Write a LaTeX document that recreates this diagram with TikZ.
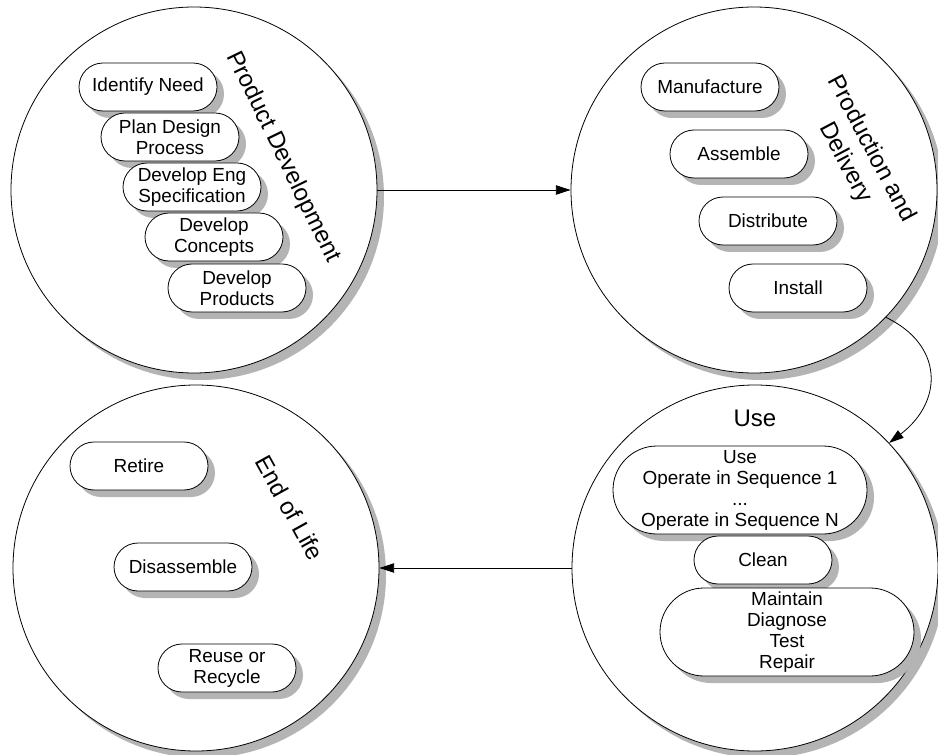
\documentclass[tikz,border=0pt]{standalone}
\usepackage{fontspec}
\setmainfont{Liberation Sans}
\usetikzlibrary{shadows,arrows.meta}
\definecolor{shade}{HTML}{B4B4B4}
\begin{document}
\begin{tikzpicture}[x=0.75pt,y=-0.75pt,
  phase/.style={circle, draw=black, line width=0.6pt, fill=white,
    minimum size=274.5pt, inner sep=0pt,
    drop shadow={shadow xshift=5.25pt, shadow yshift=-5.25pt, fill=shade, opacity=1}},
  task/.style={rectangle, rounded corners=18pt, draw=black, line width=0.6pt,
    fill=white, minimum width=103.5pt, minimum height=36pt, inner sep=2pt,
    align=center, font=\fontsize{14.2}{15.75}\selectfont,
    drop shadow={shadow xshift=5.25pt, shadow yshift=-5.25pt, fill=shade, opacity=1}},
  bigtask/.style={task, rounded corners=33pt, minimum width=190.5pt, minimum height=66pt},
  phasetitle/.style={font=\fontsize{18}{22}\selectfont, align=center},
  flow/.style={-{Triangle[length=11pt,width=7pt]}, line width=0.6pt}
]
\useasboundingbox (0,0) rectangle (938,755);

% the four life-cycle phases
\node[phase] (dev)  at (194,190) {};
\node[phase] (prod) at (754,190) {};
\node[phase] (use)  at (755,568) {};
\node[phase] (eol)  at (196,568) {};

% product development
\node[task] (need)  at (148,87)  {Identify Need};
\node[task] (plan)  at (170,137) {Plan Design\\Process};
\node[task] (spec)  at (192,187) {Develop Eng\\Specification};
\node[task] (conc)  at (214,237) {Develop\\Concepts};
\node[task] (prods) at (237,288) {Develop\\Products};
\node[phasetitle, rotate=-64] (devt) at (283,157) {Product Development};

% production and delivery
\node[task] (manu) at (710,87)  {Manufacture};
\node[task] (asm)  at (739,154) {Assemble};
\node[task] (dist) at (768,221) {Distribute};
\node[task] (inst) at (798,288) {Install};
\node[phasetitle, rotate=-62] (prodt) at (858,156) {Production and\\Delivery};

% use
\node[phasetitle] (uset) at (755,418) {Use};
\node[bigtask] (oper)  at (740,490) {Use\\Operate in Sequence 1\\...\\Operate in Sequence N};
\node[task]    (clean) at (763,560) {Clean};
\node[bigtask] (maint) at (787,632) {Maintain\\Diagnose\\Test\\Repair};

% end of life
\node[task] (ret)  at (139,466) {Retire};
\node[task] (dis)  at (183,567) {Disassemble};
\node[task] (reuse) at (227,668) {Reuse or\\Recycle};
\node[phasetitle, rotate=-61] (eolt) at (290,508) {End of Life};

% transitions between phases
\draw[flow] (dev.east) -- (prod.west);
\draw[flow] (prod.-44) .. controls +(57,27) and +(55,-42) .. (use.43);
\draw[flow] (use.west) -- (eol.east);
\end{tikzpicture}
\end{document}
